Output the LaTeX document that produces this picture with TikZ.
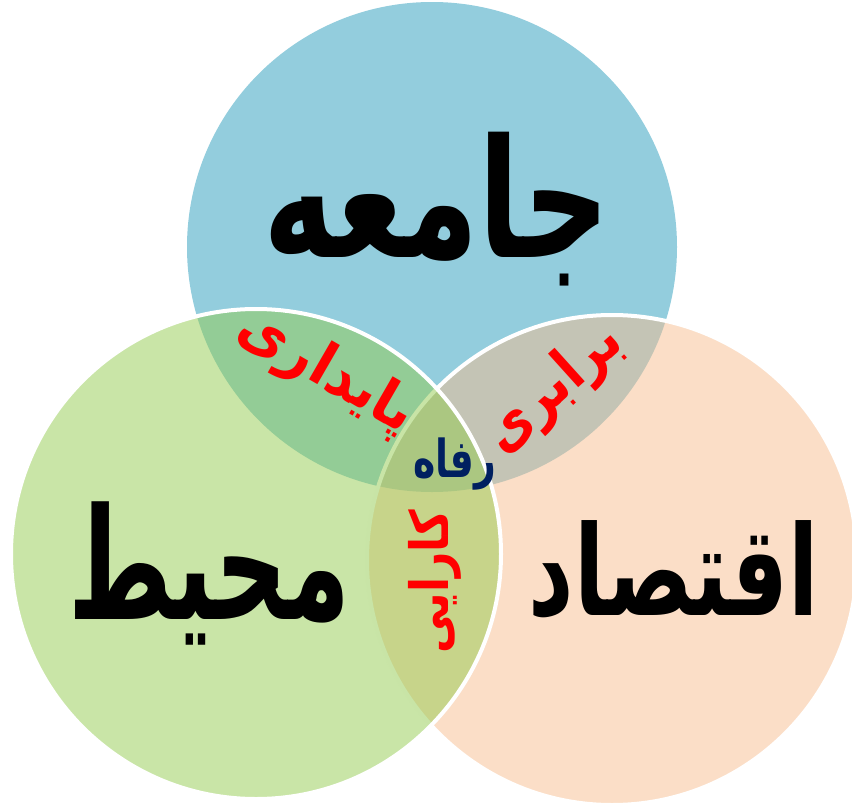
\documentclass[tikz,border=0pt]{standalone}
\usepackage{fontspec}
\usepackage{graphicx}
\TeXXeTstate=1
\newfontfamily\arabicfont[Script=Arabic]{DejaVu Sans}
\definecolor{cblue}{RGB}{39,155,187}
\definecolor{cpeach}{RGB}{247,189,143}
\definecolor{cgreen}{RGB}{147,203,79}
\definecolor{cred}{RGB}{255,0,0}
\definecolor{cnavy}{RGB}{0,32,96}
\newcommand{\arword}[3]{\scalebox{#1}[#2]{\beginR #3\endR}}
\tikzset{
  venn/.style={circle, minimum size=490pt, inner sep=0pt, fill opacity=0.5, draw opacity=1, line width=4pt},
  bigword/.style={font=\arabicfont\bfseries\fontsize{100}{100}\selectfont, text=black, inner sep=0pt},
  redword/.style={font=\arabicfont\bfseries\fontsize{44}{44}\selectfont, text=cred, inner sep=0pt},
  midword/.style={font=\arabicfont\bfseries\fontsize{36}{36}\selectfont, text=cnavy, inner sep=0pt}
}
\begin{document}
\begin{tikzpicture}[x=1pt,y=-1pt]
\useasboundingbox (0,0) rectangle (852,806);
\node[venn, fill=cblue, draw=none] (soc) at (432,247) {};
\node[venn, fill=cpeach, draw=white] (eco) at (612,560) {};
\node[venn, fill=cgreen, draw=white] (env) at (256,554) {};
\node[bigword] (tsoc) at (437,209) {\arword{1.2}{1.65}{جامعه}};
\node[bigword] (tenv) at (209,573) {\arword{1.0}{1.55}{محیط}};
\node[bigword] (teco) at (674,570) {\arword{0.885}{1.25}{اقتصاد}};
\node[redword, rotate=-30] (tsus) at (326,372) {\arword{1.25}{1.35}{پایداری}};
\node[redword, rotate=42] (tequ) at (554,389) {\arword{1.15}{1.35}{برابری}};
\node[redword, rotate=90] (teff) at (435,582) {\arword{1.0}{1.2}{کارایی}};
\node[midword] (twel) at (455,464) {\arword{1.05}{1.45}{رفاه}};
\end{tikzpicture}
\end{document}
